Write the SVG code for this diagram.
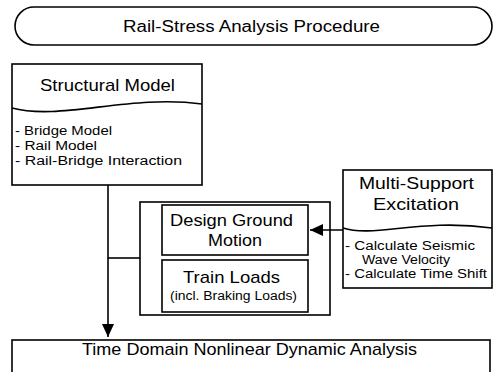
<svg xmlns="http://www.w3.org/2000/svg" width="495" height="372" viewBox="0 0 495 372">
<style>
.box{fill:#fff;stroke:#000;stroke-width:1.6}
.ln{fill:none;stroke:#000;stroke-width:1.6}
text{font-family:"Liberation Sans",Arial,sans-serif;fill:#000}
.t16{font-size:16px;text-anchor:middle}
.t17{font-size:17px;text-anchor:middle}
.s12{font-size:12.5px}
</style>
<defs>
<marker id="ah" viewBox="0 0 13 12" refX="13" refY="6" markerWidth="13" markerHeight="12" markerUnits="userSpaceOnUse" orient="auto">
<path d="M0,0 L13,6 L0,12 Z" fill="#000"/>
</marker>
</defs>
<rect width="495" height="372" fill="#fff"/>
<g id="title">
<rect class="box" x="15" y="7" width="477" height="38" rx="19" ry="19"/>
<text class="t16" x="251.5" y="32" textLength="257" lengthAdjust="spacingAndGlyphs">Rail-Stress Analysis Procedure</text>
</g>
<g id="structural-model">
<rect class="box" x="12" y="64" width="190" height="121"/>
<path class="ln" d="M12,108 C60,121 130,94 202,104"/>
<text class="t17" x="107.5" y="91" textLength="135" lengthAdjust="spacingAndGlyphs">Structural Model</text>
<text class="s12" x="15" y="135" textLength="97" lengthAdjust="spacingAndGlyphs">- Bridge Model</text>
<text class="s12" x="15" y="150" textLength="82" lengthAdjust="spacingAndGlyphs">- Rail Model</text>
<text class="s12" x="15" y="165" textLength="167" lengthAdjust="spacingAndGlyphs">- Rail-Bridge Interaction</text>
</g>
<g id="loads-group">
<rect class="box" x="140" y="202" width="190" height="113"/>
</g>
<g id="design-ground-motion">
<rect class="box" x="162" y="205" width="146" height="50"/>
<text class="t17" x="231.5" y="226" textLength="123" lengthAdjust="spacingAndGlyphs">Design Ground</text>
<text class="t17" x="235" y="246" textLength="54" lengthAdjust="spacingAndGlyphs">Motion</text>
</g>
<g id="train-loads">
<rect class="box" x="162" y="260" width="146" height="52"/>
<text class="t17" x="231.5" y="283" textLength="97" lengthAdjust="spacingAndGlyphs">Train Loads</text>
<text class="t17" x="233.5" y="300" style="font-size:12.5px" textLength="127" lengthAdjust="spacingAndGlyphs">(incl. Braking Loads)</text>
</g>
<g id="multi-support">
<rect class="box" x="343" y="170" width="149" height="118"/>
<path class="ln" d="M343,228 C375,238 420,218 492,228"/>
<text class="t17" x="416.5" y="189" textLength="115" lengthAdjust="spacingAndGlyphs">Multi-Support</text>
<text class="t17" x="416" y="210" textLength="86" lengthAdjust="spacingAndGlyphs">Excitation</text>
<text class="s12" x="345" y="250" textLength="130" lengthAdjust="spacingAndGlyphs">- Calculate Seismic</text>
<text class="s12" x="362" y="264" textLength="88" lengthAdjust="spacingAndGlyphs">Wave Velocity</text>
<text class="s12" x="345" y="278" textLength="142" lengthAdjust="spacingAndGlyphs">- Calculate Time Shift</text>
</g>
<g id="analysis">
<rect class="box" x="12" y="340" width="478" height="40"/>
<text class="t17" x="249.5" y="355" textLength="335" lengthAdjust="spacingAndGlyphs">Time Domain Nonlinear Dynamic Analysis</text>
</g>
<g id="connectors">
<path class="ln" d="M108,185 V337" marker-end="url(#ah)"/>
<path class="ln" d="M108,258 H140"/>
<path class="ln" d="M343,230 H310" marker-end="url(#ah)"/>
</g>
</svg>
